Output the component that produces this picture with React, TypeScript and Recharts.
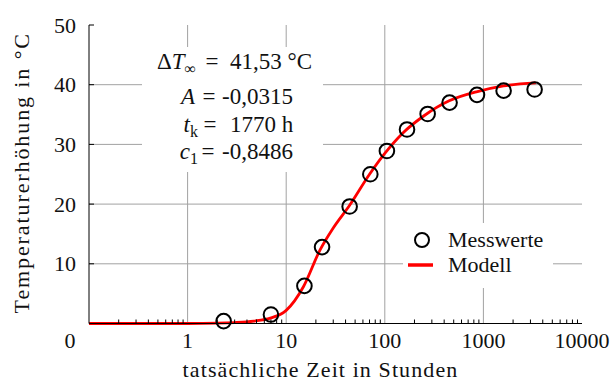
import {
  ComposedChart,
  Line,
  Scatter,
  XAxis,
  YAxis,
  ReferenceLine,
} from 'recharts'

const MESS_T = [2.32, 7.0, 15.3, 23.1, 44, 71.3, 105, 168, 272, 454, 861, 1603, 3306]
const MESS_DT = [0.4, 1.5, 6.3, 12.8, 19.6, 25.0, 28.9, 32.5, 35.1, 37.0, 38.3, 39.0, 39.2]

const MODELL_T = [0.1, 0.5, 1, 2, 3, 4.7, 6.9, 10, 15, 22, 30, 44, 70, 100, 150, 250, 450, 850, 1600, 3400]
const MODELL_DT = [0, 0, 0, 0.05, 0.15, 0.4, 0.9, 2.2, 6.2, 12.3, 16, 19.8, 25, 28.5, 31.8, 34.8, 37.3, 38.8, 39.8, 40.3]

const X_MAJOR = [1, 10, 100, 1000, 10000]
const X_TICKS = [0.2, 0.3, 0.4, 0.5, 0.6, 0.7, 0.8, 0.9, 1, 2, 3, 4, 5, 6, 7, 8, 9, 10, 20, 30, 40, 50, 60, 70, 80, 90, 100,
  200, 300, 400, 500, 600, 700, 800, 900, 1000, 2000, 3000, 4000, 5000, 6000, 7000, 8000, 9000, 10000]
const Y_TICKS = [0, 10, 20, 30, 40, 50]
const X_GRID = [1, 10, 100, 1000]
const Y_GRID = [10, 20, 30, 40]

const messwerte = MESS_T.map((t, i) => ({ x: t, y: MESS_DT[i] }))
const modell = MODELL_T.map((t, i) => ({ x: t, y: MODELL_DT[i] }))

const FONT = '"Liberation Serif", "DejaVu Serif", serif'
const GRID = '#a2a2a2'
const INK = '#111'

function BottomTick(props: any) {
  const { x, y, payload } = props
  const major = X_MAJOR.includes(payload.value)
  return (
    <g>
      {!major && <line x1={x} y1={y} x2={x} y2={y - 4} stroke="#000" strokeWidth={1} />}
      {major && (
        <text x={x} y={y + 24.5} textAnchor="middle" fontSize={22} fontFamily={FONT} fill={INK}>
          {payload.value}
        </text>
      )}
    </g>
  )
}

function TopTick(props: any) {
  const { x, y, payload } = props
  if (X_MAJOR.includes(payload.value)) return null
  return <line x1={x} y1={y} x2={x} y2={y + 4} stroke="#000" strokeWidth={1} />
}

function LeftTick(props: any) {
  const { x, y, payload } = props
  if (payload.value === 0) {
    // the zero sits low, level with the x labels
    return (
      <text x={x - 19} y={y + 24.5} textAnchor="middle" fontSize={22} fontFamily={FONT} fill={INK}>
        0
      </text>
    )
  }
  return (
    <g>
      <line x1={x} y1={y} x2={x + 5} y2={y} stroke="#000" strokeWidth={1} />
      <text x={x - 13} y={y + 7.5} textAnchor="end" fontSize={22} fontFamily={FONT} fill={INK}>
        {payload.value}
      </text>
    </g>
  )
}

function RightTick(props: any) {
  const { x, y, payload } = props
  if (payload.value === 0 || payload.value === 50) return null
  return <line x1={x} y1={y} x2={x - 5} y2={y} stroke="#000" strokeWidth={1} />
}

const sub: React.CSSProperties = { fontSize: 16, verticalAlign: -5, lineHeight: 0 }

// one row of the parameter box: left side right-aligned, "=" centred, value left-aligned
function Row({ top, lhsRight, eq, valLeft, lhs, val }: any) {
  return (
    <div style={{ position: 'absolute', top: top - 13, left: 0, width: 181, height: 26, lineHeight: '26px' }}>
      <span style={{ position: 'absolute', right: 181 - lhsRight, whiteSpace: 'nowrap' }}>{lhs}</span>
      <span style={{ position: 'absolute', left: eq - 7, width: 14, textAlign: 'center' }}>=</span>
      <span style={{ position: 'absolute', left: valLeft, whiteSpace: 'nowrap' }}>{val}</span>
    </div>
  )
}

export default function App() {
  return (
    <div style={{ position: 'absolute', left: 0, top: 0, width: 611, height: 383, background: '#fff' }}>
      <ComposedChart width={611} height={383} margin={{ top: 25, right: 29, left: 0, bottom: 0 }}>
        <XAxis
          xAxisId="b"
          dataKey="x"
          type="number"
          scale="log"
          domain={[0.1, 10000]}
          allowDataOverflow
          ticks={X_TICKS}
          interval={0}
          height={59.5}
          tickSize={0}
          tickMargin={0}
          tickLine={false}
          tick={<BottomTick />}
          axisLine={{ stroke: '#000' }}
          label={{
            content: ({ viewBox }: any) => (
              <text
                x={viewBox.x + viewBox.width / 2 - 15}
                y={viewBox.y + 53}
                textAnchor="middle"
                fontSize={22}
                letterSpacing={1.1}
                fontFamily={FONT}
                fill={INK}
              >
                tatsächliche Zeit in Stunden
              </text>
            ),
          }}
        />
        <XAxis
          xAxisId="t"
          dataKey="x"
          type="number"
          scale="log"
          orientation="top"
          domain={[0.1, 10000]}
          allowDataOverflow
          ticks={X_TICKS}
          interval={0}
          height={0}
          tickSize={0}
          tickMargin={0}
          tickLine={false}
          tick={<TopTick />}
          axisLine={{ stroke: '#000' }}
        />
        <YAxis
          yAxisId="l"
          type="number"
          domain={[0, 50]}
          ticks={Y_TICKS}
          interval={0}
          width={89}
          tickSize={0}
          tickMargin={0}
          tickLine={false}
          tick={<LeftTick />}
          axisLine={{ stroke: '#000' }}
          label={{
            content: ({ viewBox }: any) => {
              const lx = viewBox.x + 29
              const ly = viewBox.y + viewBox.height / 2 - 1.5
              return (
                <text
                  x={lx}
                  y={ly}
                  transform={`rotate(-90 ${lx} ${ly})`}
                  textAnchor="middle"
                  fontSize={22}
                  letterSpacing={1.9}
                  fontFamily={FONT}
                  fill={INK}
                >
                  Temperaturerhöhung in °C
                </text>
              )
            },
          }}
        />
        <YAxis
          yAxisId="r"
          orientation="right"
          type="number"
          domain={[0, 50]}
          ticks={Y_TICKS}
          interval={0}
          width={0}
          tickSize={0}
          tickMargin={0}
          tickLine={false}
          tick={<RightTick />}
          axisLine={{ stroke: '#000' }}
        />
        {X_GRID.map((v) => (
          <ReferenceLine key={`gx${v}`} x={v} xAxisId="b" yAxisId="l" stroke={GRID} strokeWidth={1} />
        ))}
        {Y_GRID.map((v) => (
          <ReferenceLine key={`gy${v}`} y={v} xAxisId="b" yAxisId="l" stroke={GRID} strokeWidth={1} />
        ))}
        <Line
          xAxisId="b"
          yAxisId="l"
          data={modell}
          dataKey="y"
          type="monotone"
          stroke="#ff0000"
          strokeWidth={2.8}
          dot={false}
          isAnimationActive={false}
          name="Modell"
        />
        <Scatter
          xAxisId="b"
          yAxisId="l"
          data={messwerte}
          dataKey="y"
          name="Messwerte"
          isAnimationActive={false}
          shape={(p: any) => <circle cx={p.cx} cy={p.cy} r={7.3} fill="none" stroke="#000" strokeWidth={2} />}
        />
      </ComposedChart>

      {/* legend, white background hides the grid */}
      <div
        style={{
          position: 'absolute',
          left: 403,
          top: 223,
          width: 150,
          height: 65,
          background: '#fff',
          fontFamily: FONT,
          fontSize: 22,
          color: INK,
        }}
      >
        <svg width={40} height={20} style={{ position: 'absolute', left: 0, top: 7 }}>
          <circle cx={19} cy={10} r={7} fill="none" stroke="#000" strokeWidth={2} />
        </svg>
        <span style={{ position: 'absolute', left: 45, top: 17 - 13, lineHeight: '26px' }}>Messwerte</span>
        <svg width={40} height={20} style={{ position: 'absolute', left: 0, top: 32 }}>
          <line x1={5} y1={10} x2={30} y2={10} stroke="#ff0000" strokeWidth={3.5} />
        </svg>
        <span style={{ position: 'absolute', left: 45, top: 42 - 13, lineHeight: '26px' }}>Modell</span>
      </div>

      {/* parameter box */}
      <div
        style={{
          position: 'absolute',
          left: 142,
          top: 47,
          width: 181,
          height: 125,
          background: '#fff',
          fontFamily: FONT,
          fontSize: 23,
          color: INK,
        }}
      >
        <Row
          top={15}
          lhsRight={54}
          eq={70}
          valLeft={88}
          lhs={<>Δ<i>T</i><span style={sub}>∞</span></>}
          val={<>41,53 °C</>}
        />
        <Row top={50} lhsRight={53} eq={67} valLeft={80} lhs={<i>A</i>} val={<>-0,0315</>} />
        <Row
          top={78}
          lhsRight={56}
          eq={68}
          valLeft={88}
          lhs={<><i>t</i><span style={sub}>k</span></>}
          val={<>1770 h</>}
        />
        <Row
          top={105}
          lhsRight={56}
          eq={66}
          valLeft={80}
          lhs={<><i>c</i><span style={sub}>1</span></>}
          val={<>-0,8486</>}
        />
      </div>
    </div>
  )
}
